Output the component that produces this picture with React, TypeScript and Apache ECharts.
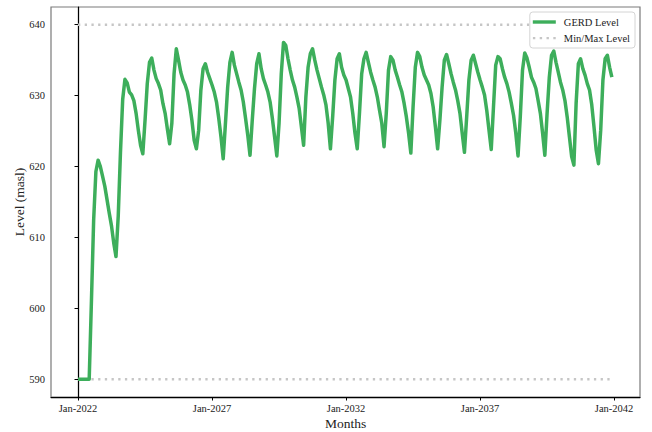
import React, { useEffect, useRef } from "react";
import * as echarts from "echarts";

// Monthly GERD reservoir level (masl), Jan-2022 .. Dec-2041, one array per year
const y2022 = [590, 590, 590, 590, 590, 590, 601, 612.5, 619.3, 620.9, 620.0, 618.6];
const y2023 = [617.2, 615.3, 613.4, 611.6, 609.2, 607.3, 613, 622, 629.5, 632.3, 631.8, 630.5];
const y2024 = [630.1, 629.3, 627.5, 625.1, 623.0, 621.8, 626.5, 631.7, 634.7, 635.3, 633.6, 632.4];
const y2025 = [631.7, 630.8, 628.9, 627.5, 625.3, 623.2, 626.1, 633.1, 636.6, 635.0, 633.3, 632.2];
const y2026 = [631.5, 630.5, 628.7, 626.5, 623.7, 622.5, 625.1, 630.8, 633.8, 634.5, 633.3, 632.4];
const y2027 = [631.5, 630.5, 629.1, 626.8, 624.2, 621.1, 626.1, 631.2, 634.7, 636.1, 634.3, 633.1];
const y2028 = [631.9, 630.8, 629.1, 626.8, 624.4, 621.6, 626.5, 631.0, 634.5, 635.9, 633.8, 632.4];
const y2029 = [631.5, 630.5, 629.1, 626.8, 624.2, 621.5, 626.1, 633.1, 637.5, 637.1, 635.2, 633.6];
const y2030 = [632.2, 631.2, 629.8, 628.2, 625.6, 623.0, 629.8, 634.0, 635.9, 636.6, 635.0, 633.6];
const y2031 = [632.4, 631.2, 630.1, 628.7, 626.1, 622.5, 627.0, 632.2, 635.2, 635.9, 634.0, 632.9];
const y2032 = [632.2, 631.0, 629.8, 627.5, 624.7, 622.5, 627.5, 633.1, 635.2, 636.1, 634.7, 633.3];
const y2033 = [632.2, 631.2, 629.8, 627.9, 626.1, 622.8, 627.5, 633.6, 635.5, 635.0, 633.6, 632.6];
const y2034 = [631.5, 630.5, 628.9, 627.0, 624.7, 621.9, 628.4, 634.0, 636.1, 635.5, 634.0, 632.9];
const y2035 = [632.2, 631.5, 630.3, 628.4, 625.6, 622.5, 626.5, 631.2, 635.0, 635.8, 634.5, 633.1];
const y2036 = [631.9, 630.8, 629.3, 627.5, 624.7, 622.0, 627.0, 632.2, 635.0, 635.7, 634.5, 633.3];
const y2037 = [632.2, 631.2, 630.1, 627.9, 625.1, 622.4, 628.4, 634.3, 635.5, 635.2, 633.8, 632.6];
const y2038 = [631.7, 630.5, 628.9, 627.2, 624.7, 621.5, 627.0, 633.6, 636.0, 635.3, 634.0, 632.6];
const y2039 = [631.9, 631.0, 629.3, 627.5, 624.7, 621.6, 627.5, 632.6, 635.7, 636.3, 634.7, 633.3];
const y2040 = [631.9, 630.8, 629.3, 627.0, 624.2, 621.4, 620.2, 628.9, 634.5, 635.2, 633.8, 632.9];
const y2041 = [631.7, 630.8, 628.7, 625.6, 622.3, 620.4, 625.1, 632.2, 635.2, 635.7, 634.0, 632.6];

const levels: number[] = [
  ...y2022, ...y2023, ...y2024, ...y2025, ...y2026, ...y2027, ...y2028,
  ...y2029, ...y2030, ...y2031, ...y2032, ...y2033, ...y2034, ...y2035,
  ...y2036, ...y2037, ...y2038, ...y2039, ...y2040, ...y2041,
];

const startYear = 2022;
const maxLevel = 640;
const minLevel = 590;
const xTickMonths = [0, 60, 120, 180, 240];
const yTickValues = [590, 600, 610, 620, 630, 640];

const FONT = '"Liberation Serif", "DejaVu Serif", serif';
const GREEN = "#3dae5b";
const GRAY = "#c6c6c6";

const SOLID_ICON = "path://M0,0h23v3.4h-23z";
const DOTTED_ICON =
  "path://M0,0.6h2.4v2.3h-2.4z M6.8,0.6h2.4v2.3h-2.4z M13.6,0.6h2.4v2.3h-2.4z M20.4,0.6h2.4v2.3h-2.4z M0,0h0.01v3.4h-0.01z";

export default function App() {
  const ref = useRef<HTMLDivElement>(null);

  useEffect(() => {
    if (!ref.current) return;
    const chart = echarts.init(ref.current, undefined, { renderer: "svg" });
    const lastIdx = levels.length - 1;
    chart.setOption({
      animation: false,
      backgroundColor: "#ffffff",
      grid: {
        left: 51,
        right: 12,
        top: 7,
        bottom: 35,
        show: true,
        borderColor: "#7a7a7a",
        borderWidth: 1.2,
        outerBoundsMode: "none",
      },
      legend: {
        orient: "vertical",
        right: 17,
        top: 12,
        data: [
          { name: "GERD Level", icon: SOLID_ICON, itemStyle: { color: GREEN } },
          { name: "Min/Max Level", icon: DOTTED_ICON, itemStyle: { color: GRAY } },
        ],
        itemWidth: 23,
        itemHeight: 3.4,
        itemGap: 4,
        padding: [4, 5, 4, 3],
        backgroundColor: "#ffffff",
        borderColor: "#d4d4d4",
        borderWidth: 1,
        borderRadius: 3,
        textStyle: {
          fontFamily: FONT,
          fontSize: 10.5,
          color: "#222",
          padding: [0, 0, 0, 3],
          lineHeight: 12,
        },
      },
      xAxis: {
        type: "value",
        min: -12.1,
        max: 251.6,
        name: "Months",
        nameLocation: "middle",
        nameGap: 19,
        nameMoveOverlap: false,
        nameTextStyle: { fontFamily: FONT, fontSize: 13.5, color: "#222" },
        splitLine: { show: false },
        axisLine: { show: true, lineStyle: { color: "#000", width: 1.25 } },
        axisTick: {
          show: true,
          length: 3.5,
          customValues: xTickMonths,
          lineStyle: { color: "#000", width: 1 },
        },
        axisLabel: {
          customValues: xTickMonths,
          fontFamily: FONT,
          fontSize: 10.5,
          color: "#222",
          margin: 6,
          formatter: (v: number) => "Jan-" + (startYear + Math.round(v / 12)),
        },
      },
      yAxis: {
        type: "value",
        min: 587.5,
        max: 642.5,
        name: "Level (masl)",
        nameLocation: "middle",
        nameGap: 25,
        nameMoveOverlap: false,
        nameRotate: 90,
        nameTextStyle: { fontFamily: FONT, fontSize: 13.5, color: "#222" },
        splitLine: { show: false },
        axisLine: { show: true, lineStyle: { color: "#000", width: 1.25 } },
        axisTick: {
          show: true,
          length: 3.5,
          customValues: yTickValues,
          lineStyle: { color: "#000", width: 1 },
        },
        axisLabel: {
          customValues: yTickValues,
          fontFamily: FONT,
          fontSize: 10.5,
          color: "#222",
          margin: 6,
        },
      },
      series: [
        {
          name: "Min/Max Level",
          type: "line",
          data: [[0, maxLevel], [lastIdx, maxLevel]],
          symbol: "none",
          lineStyle: { color: GRAY, width: 2.3, type: [2.3, 4.4] },
          itemStyle: { color: GRAY },
          z: 2,
        },
        {
          name: "Min/Max Level",
          type: "line",
          data: [[0, minLevel], [lastIdx, minLevel]],
          symbol: "none",
          lineStyle: { color: GRAY, width: 2.3, type: [2.3, 4.4] },
          itemStyle: { color: GRAY },
          z: 2,
        },
        {
          name: "GERD Level",
          type: "line",
          data: levels.map((v, i) => [i, v]),
          symbol: "none",
          lineStyle: { color: GREEN, width: 3.5, join: "round" },
          itemStyle: { color: GREEN },
          z: 3,
        },
      ],
    });
    return () => chart.dispose();
  }, []);

  return <div ref={ref} style={{ width: 652, height: 432, position: "absolute", left: 0, top: 0 }} />;
}
